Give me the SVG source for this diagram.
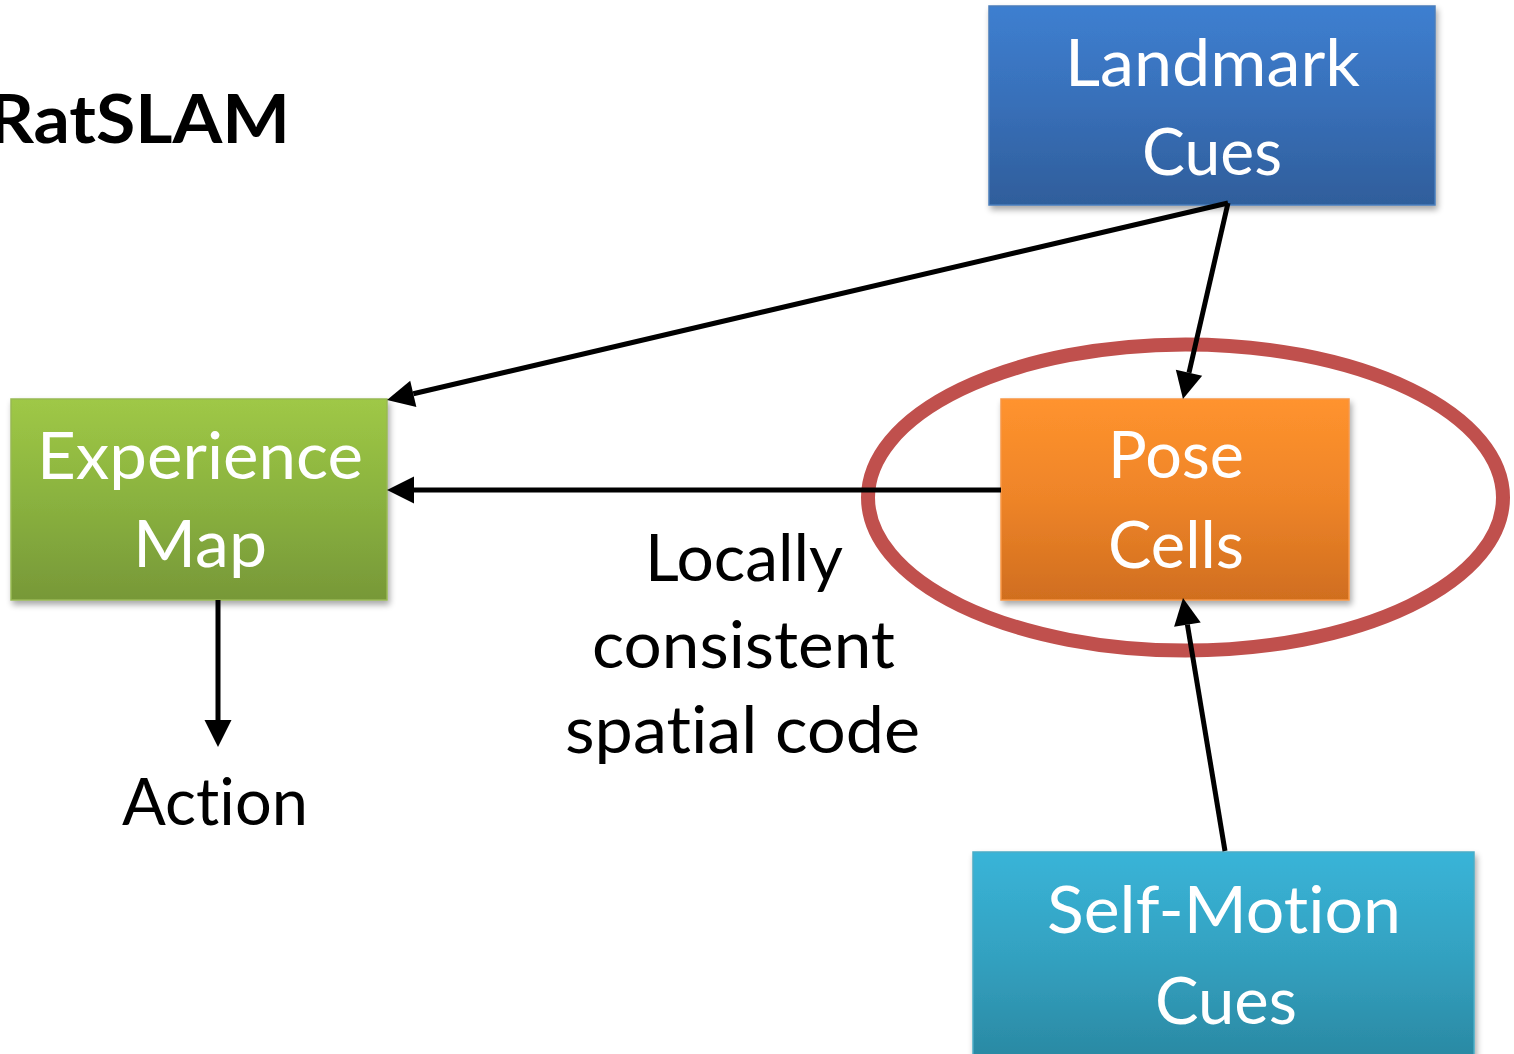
<svg xmlns="http://www.w3.org/2000/svg" width="1514" height="1054" viewBox="0 0 1514 1054">
<style>
.t{font-family:Lato,"Open Sans","Liberation Sans",sans-serif;font-size:66px;font-variant-ligatures:none;font-feature-settings:"liga" 0;}
.w{fill:#ffffff;}
.k{fill:#000000;}
.c{stroke:#000;stroke-width:5;fill:none;marker-end:url(#ah);}
</style>
<defs>
<marker id="ah" markerUnits="userSpaceOnUse" markerWidth="28" markerHeight="28" refX="0" refY="13.5" orient="auto" overflow="visible">
<path d="M0,0 L27,13.5 L0,27 z" fill="#000"/>
</marker>
<filter id="sh" x="-10%" y="-10%" width="125%" height="130%">
<feGaussianBlur in="SourceAlpha" stdDeviation="3"/>
<feOffset dx="2" dy="4" result="b"/>
<feComponentTransfer><feFuncA type="linear" slope="0.35"/></feComponentTransfer>
<feMerge><feMergeNode/><feMergeNode in="SourceGraphic"/></feMerge>
</filter>
<linearGradient id="gBlue" x1="0" y1="0" x2="0" y2="1"><stop offset="0" stop-color="#3d7fd0"/><stop offset="0.5" stop-color="#386fb8"/><stop offset="1" stop-color="#2f5e9b"/></linearGradient>
<linearGradient id="gGreen" x1="0" y1="0" x2="0" y2="1"><stop offset="0" stop-color="#9fc846"/><stop offset="0.5" stop-color="#8ab23f"/><stop offset="1" stop-color="#779838"/></linearGradient>
<linearGradient id="gOrange" x1="0" y1="0" x2="0" y2="1"><stop offset="0" stop-color="#ff932e"/><stop offset="0.5" stop-color="#ee8428"/><stop offset="1" stop-color="#d06e1f"/></linearGradient>
<linearGradient id="gTeal" x1="0" y1="0" x2="0" y2="1"><stop offset="0" stop-color="#39b4d8"/><stop offset="0.5" stop-color="#33a1c0"/><stop offset="1" stop-color="#2a88a2"/></linearGradient>
</defs>
<rect width="1514" height="1054" fill="#fff"/>
<text class="t k" x="-12" y="143" font-size="74" font-weight="bold" textLength="302" lengthAdjust="spacingAndGlyphs">RatSLAM</text>
<g id="landmark">
<rect x="989" y="6" width="446" height="199" fill="url(#gBlue)" stroke="#4a7ebb" stroke-width="1.5" filter="url(#sh)"/>
<text class="t w" x="1065" y="86" textLength="295" lengthAdjust="spacingAndGlyphs">Landmark</text>
<text class="t w" x="1142" y="175" textLength="140" lengthAdjust="spacingAndGlyphs">Cues</text>
</g>
<g id="experience">
<rect x="11" y="399" width="376" height="201" fill="url(#gGreen)" stroke="#98b954" stroke-width="1.5" filter="url(#sh)"/>
<text class="t w" x="37" y="479" textLength="326" lengthAdjust="spacingAndGlyphs">Experience</text>
<text class="t w" x="133" y="567" textLength="134" lengthAdjust="spacingAndGlyphs">Map</text>
</g>
<g id="pose">
<rect x="1001" y="399" width="348" height="201" fill="url(#gOrange)" stroke="#f79646" stroke-width="1.5" filter="url(#sh)"/>
<text class="t w" x="1108" y="478" textLength="136" lengthAdjust="spacingAndGlyphs">Pose</text>
<text class="t w" x="1108" y="568" textLength="136" lengthAdjust="spacingAndGlyphs">Cells</text>
</g>
<g id="selfmotion">
<rect x="973" y="852" width="501" height="210" fill="url(#gTeal)" stroke="#4bacc6" stroke-width="1.5" filter="url(#sh)"/>
<text class="t w" x="1047" y="933" textLength="354" lengthAdjust="spacingAndGlyphs">Self-Motion</text>
<text class="t w" x="1155" y="1024" textLength="142" lengthAdjust="spacingAndGlyphs">Cues</text>
</g>
<g id="highlight">
<ellipse cx="1185.5" cy="497.5" rx="317.5" ry="153" fill="none" stroke="#c0504d" stroke-width="14"/>
</g>
<g id="connectors">
<line class="c" x1="1228" y1="203" x2="413.3" y2="393.8"/>
<line class="c" x1="1228" y1="203" x2="1189" y2="372.7"/>
<line class="c" x1="1001" y1="490" x2="414" y2="490"/>
<line class="c" x1="1225" y1="851" x2="1187.4" y2="624.6"/>
<line class="c" x1="218" y1="600" x2="218" y2="720"/>
</g>
<g id="labels">
<text class="t k" x="645" y="581" textLength="198" lengthAdjust="spacingAndGlyphs">Locally</text>
<text class="t k" x="592" y="668" textLength="303" lengthAdjust="spacingAndGlyphs">consistent</text>
<text class="t k" x="565" y="753" textLength="355" lengthAdjust="spacingAndGlyphs">spatial code</text>
<text class="t k" x="122" y="825" textLength="186" lengthAdjust="spacingAndGlyphs">Action</text>
</g>
</svg>
